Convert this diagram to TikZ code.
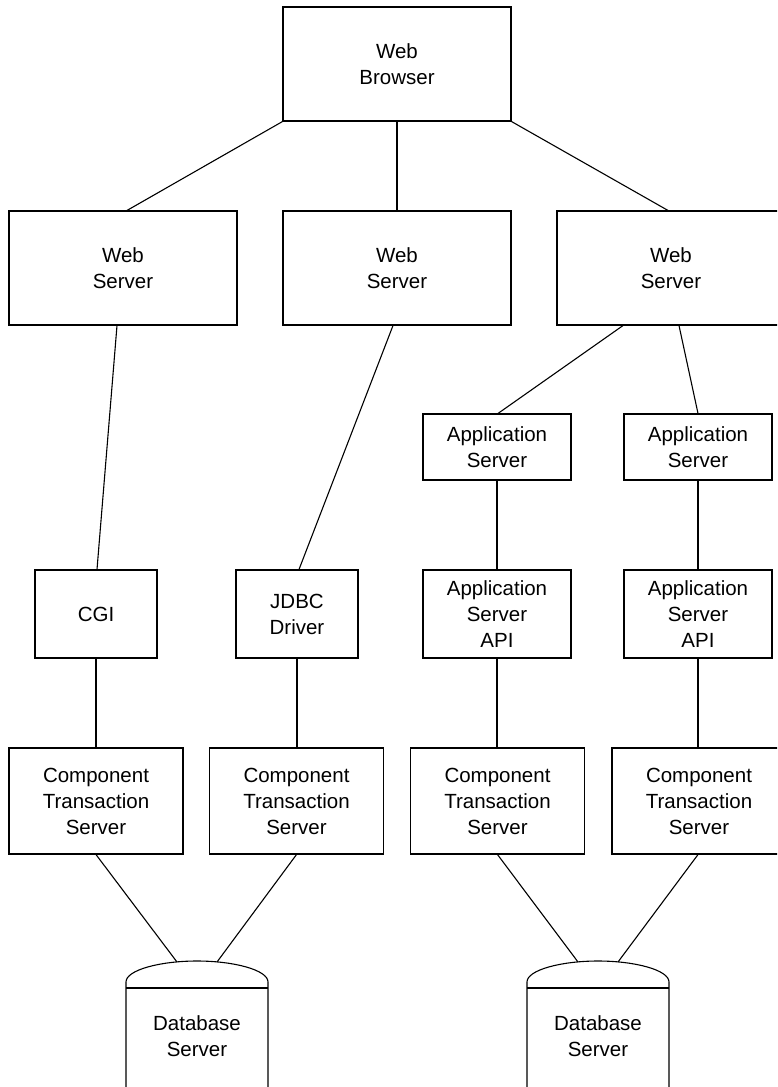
\documentclass[tikz,border=0pt]{standalone}
\usepackage{fontspec}
\setmainfont{Liberation Sans}
\usetikzlibrary{calc}
\begin{document}
\begin{tikzpicture}[x=1pt,y=-1pt,
  line width=1.1pt,
  box/.style={draw, rectangle, inner sep=0pt, align=center,
    font=\fontsize{20.5}{26}\selectfont},
  bigbox/.style={box, minimum width=228pt, minimum height=114pt},
  smallbox/.style={box, minimum width=122pt, minimum height=88pt},
  appbox/.style={box, minimum width=148pt, minimum height=66pt},
  apibox/.style={box, minimum width=148pt, minimum height=88pt},
  ctsbox/.style={box, minimum width=174pt, minimum height=106pt},
  dblabel/.style={align=center, inner sep=0pt, font=\fontsize{20.5}{26}\selectfont},
  link/.style={draw, line width=1.1pt}]
\clip (0,0) rectangle (777,1087);
\fill[white] (0,0) rectangle (777,1087);

% nodes
\node[bigbox] (browser) at (397,64) {Web\\Browser};
\node[bigbox] (ws1) at (123,268) {Web\\Server};
\node[bigbox] (ws2) at (397,268) {Web\\Server};
\node[bigbox] (ws3) at (671,268) {Web\\Server};
\node[smallbox] (cgi) at (96,614) {CGI};
\node[smallbox] (jdbc) at (297,614) {JDBC\\Driver};
\node[appbox] (app1) at (497,447) {Application\\Server};
\node[appbox] (app2) at (698,447) {Application\\Server};
\node[apibox] (api1) at (497,614) {Application\\Server\\API};
\node[apibox] (api2) at (698,614) {Application\\Server\\API};
\node[ctsbox] (cts1) at (96,801) {Component\\Transaction\\Server};
\node[ctsbox] (cts2) at (296.5,801) {Component\\Transaction\\Server};
\node[ctsbox] (cts3) at (497.5,801) {Component\\Transaction\\Server};
\node[ctsbox] (cts4) at (699,801) {Component\\Transaction\\Server};

% database servers
\foreach \n/\cx in {db1/197, db2/598}{
  \draw (\cx-71,1095) -- (\cx-71,982)
    .. controls (\cx-71,970) and (\cx-37,961) .. (\cx,961)
    .. controls (\cx+37,961) and (\cx+71,970) .. (\cx+71,982)
    -- (\cx+71,1095);
  \draw (\cx-71,988) -- (\cx+71,988);
  \node[dblabel] (\n) at (\cx,1036) {Database\\Server};
  \coordinate (\n l) at (\cx-20,962);
  \coordinate (\n r) at (\cx+20,962);
}

% connectors
\draw[link] (browser.south west) -- ($(ws1.north)+(4,0)$);
\draw[link] (browser.south) -- (ws2.north);
\draw[link] (browser.south east) -- ($(ws3.north)+(-3,0)$);
\draw[link] ($(ws1.south)+(-6,0)$) -- ($(cgi.north)+(1,0)$);
\draw[link] ($(ws2.south)+(-4,0)$) -- ($(jdbc.north)+(2,0)$);
\draw[link] ($(ws3.south)+(-48,0)$) -- ($(app1.north)+(1,0)$);
\draw[link] ($(ws3.south)+(8,0)$) -- (app2.north);
\draw[link] (app1.south) -- (api1.north);
\draw[link] (app2.south) -- (api2.north);
\draw[link] (cgi.south) -- (cts1.north);
\draw[link] (jdbc.south) -- ($(cts2.north)+(0.5,0)$);
\draw[link] (api1.south) -- ($(cts3.north)+(-0.5,0)$);
\draw[link] (api2.south) -- ($(cts4.north)+(-1,0)$);
\draw[link] (cts1.south) -- (db1l);
\draw[link] (cts2.south) -- (db1r);
\draw[link] (cts3.south) -- (db2l);
\draw[link] ($(cts4.south)+(-1,0)$) -- (db2r);
\end{tikzpicture}
\end{document}
